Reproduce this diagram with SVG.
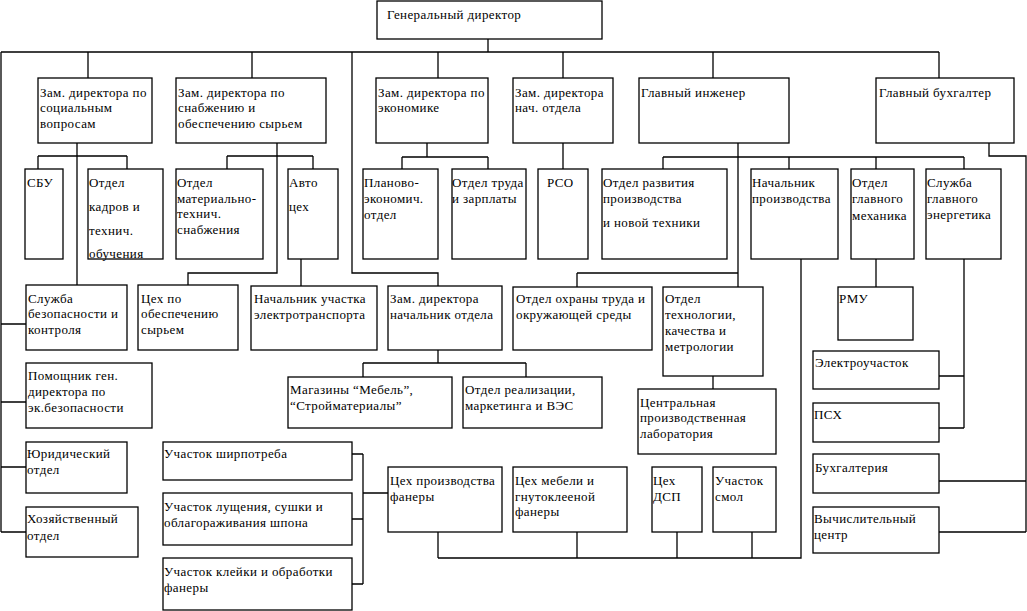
<svg xmlns="http://www.w3.org/2000/svg" width="1027" height="611" viewBox="0 0 1027 611">
<style>
rect{fill:#fff;stroke:#000;stroke-width:1.3}
text{font-family:"Liberation Serif","Times New Roman","DejaVu Serif",serif;font-size:13px;letter-spacing:0.4px;fill:#000}
.c path{fill:none;stroke:#000;stroke-width:1.3}
</style>
<rect x="0" y="0" width="1027" height="611" style="stroke:none"/>
<g class="c" id="connectors">
<path d="M488,39V52M1,52H939M1,52V532M1,324H26M1,402H26M1,467H26M1,532H26"/>
<path d="M88,52V78M252,52V78M438,52V78M563,52V78M713,52V78M939,52V78"/>
<path d="M352,52V273H438V286"/>
<path d="M77,143V285M38,156H127M38,156V169M127,156V169"/>
<path d="M277,143V273H188V285M227,156H313M227,156V169M313,156V169M301,259V286"/>
<path d="M427,143V157M402,157H488M402,157V169M488,157V169"/>
<path d="M563,143V169"/>
<path d="M738,143V287M663,157H964M663,157V169M789,157V169M876,157V169M964,157V169M577,273H738M577,273V287"/>
<path d="M438,350V363M363,363H526M363,363V377M526,363V377"/>
<path d="M713,376V389"/>
<path d="M989,143V156H1026V532M939,481H1026M939,532H1026"/>
<path d="M876,259V287"/>
<path d="M964,259V428M939,376H964M939,428H964"/>
<path d="M801,259V558H438M438,532V558M577,532V558M677,532V558M752,532V558"/>
<path d="M363,454V584M352,454H363M352,519H363M352,584H363M363,493H388"/>
</g>
<g id="n1"><rect x="377" y="1" width="225" height="38"/><text x="387" y="19">Генеральный директор</text></g>
<g id="n2"><rect x="38" y="78" width="114" height="65"/><text x="40" y="97">Зам. директора по</text><text x="40" y="112">социальным</text><text x="40" y="128">вопросам</text></g>
<g id="n3"><rect x="176" y="78" width="150" height="65"/><text x="178" y="97">Зам. директора по</text><text x="178" y="112">снабжению и</text><text x="178" y="128">обеспечению сырьем</text></g>
<g id="n4"><rect x="376" y="78" width="112" height="65"/><text x="378" y="97">Зам. директора по</text><text x="378" y="112">экономике</text></g>
<g id="n5"><rect x="513" y="78" width="100" height="65"/><text x="515" y="97">Зам. директора</text><text x="515" y="112">нач. отдела</text></g>
<g id="n6"><rect x="639" y="78" width="150" height="65"/><text x="641" y="97">Главный инженер</text></g>
<g id="n7"><rect x="876" y="78" width="138" height="65"/><text x="879" y="97">Главный бухгалтер</text></g>
<g id="n8"><rect x="25" y="169" width="38" height="90"/><text x="27" y="187">СБУ</text></g>
<g id="n9"><rect x="88" y="169" width="75" height="90"/><text x="89" y="187">Отдел</text><text x="89" y="211">кадров и</text><text x="89" y="235">технич.</text><text x="89" y="258">обучения</text></g>
<g id="n10"><rect x="176" y="169" width="87" height="90"/><text x="177" y="187">Отдел</text><text x="177" y="203">материально-</text><text x="177" y="218">технич.</text><text x="177" y="234">снабжения</text></g>
<g id="n11"><rect x="288" y="169" width="50" height="90"/><text x="289" y="187">Авто</text><text x="289" y="211">цех</text></g>
<g id="n12"><rect x="363" y="169" width="75" height="90"/><text x="364" y="187">Планово-</text><text x="364" y="203">экономич.</text><text x="364" y="219">отдел</text></g>
<g id="n13"><rect x="452" y="169" width="74" height="90"/><text x="452" y="187">Отдел труда</text><text x="452" y="203">и зарплаты</text></g>
<g id="n14"><rect x="538" y="169" width="50" height="90"/><text x="547" y="187">РСО</text></g>
<g id="n15"><rect x="602" y="169" width="125" height="90"/><text x="603" y="187">Отдел развития</text><text x="603" y="203">производства</text><text x="603" y="227">и новой техники</text></g>
<g id="n16"><rect x="751" y="169" width="87" height="90"/><text x="752" y="187">Начальник</text><text x="752" y="203">производства</text></g>
<g id="n17"><rect x="851" y="169" width="63" height="90"/><text x="852" y="187">Отдел</text><text x="852" y="203">главного</text><text x="852" y="220">механика</text></g>
<g id="n18"><rect x="926" y="169" width="75" height="90"/><text x="927" y="187">Служба</text><text x="927" y="203">главного</text><text x="927" y="219">энергетика</text></g>
<g id="n19"><rect x="26" y="285" width="101" height="65"/><text x="28" y="303">Служба</text><text x="28" y="318">безопасности и</text><text x="28" y="334">контроля</text></g>
<g id="n20"><rect x="138" y="285" width="100" height="65"/><text x="141" y="303">Цех по</text><text x="141" y="318">обеспечению</text><text x="141" y="334">сырьем</text></g>
<g id="n21"><rect x="251" y="286" width="126" height="64"/><text x="254" y="303">Начальник участка</text><text x="254" y="319">электротранспорта</text></g>
<g id="n22"><rect x="388" y="286" width="114" height="64"/><text x="390" y="303">Зам. директора</text><text x="390" y="319">начальник отдела</text></g>
<g id="n23"><rect x="513" y="287" width="139" height="63"/><text x="516" y="303">Отдел охраны труда и</text><text x="516" y="319">окружающей среды</text></g>
<g id="n24"><rect x="663" y="287" width="100" height="89"/><text x="665" y="303">Отдел</text><text x="665" y="319">технологии,</text><text x="665" y="335">качества и</text><text x="665" y="351">метрологии</text></g>
<g id="n25"><rect x="838" y="287" width="75" height="53"/><text x="839" y="303">РМУ</text></g>
<g id="n26"><rect x="26" y="363" width="126" height="65"/><text x="28" y="380">Помощник ген.</text><text x="28" y="396">директора по</text><text x="28" y="412">эк.безопасности</text></g>
<g id="n27"><rect x="288" y="377" width="164" height="51"/><text x="290" y="394">Магазины “Мебель”,</text><text x="290" y="410">“Стройматериалы”</text></g>
<g id="n28"><rect x="463" y="377" width="139" height="51"/><text x="465" y="394">Отдел реализации,</text><text x="465" y="410">маркетинга и ВЭС</text></g>
<g id="n29"><rect x="638" y="389" width="138" height="65"/><text x="640" y="407">Центральная</text><text x="640" y="422">производственная</text><text x="640" y="438">лаборатория</text></g>
<g id="n30"><rect x="813" y="351" width="126" height="38"/><text x="815" y="367">Электроучасток</text></g>
<g id="n31"><rect x="813" y="403" width="126" height="39"/><text x="814" y="419">ПСХ</text></g>
<g id="n32"><rect x="813" y="454" width="126" height="39"/><text x="815" y="472">Бухгалтерия</text></g>
<g id="n33"><rect x="813" y="507" width="126" height="46"/><text x="814" y="523">Вычислительный</text><text x="814" y="539">центр</text></g>
<g id="n34"><rect x="26" y="442" width="101" height="51"/><text x="27" y="458">Юридический</text><text x="27" y="474">отдел</text></g>
<g id="n35"><rect x="26" y="507" width="112" height="50"/><text x="27" y="523">Хозяйственный</text><text x="27" y="540">отдел</text></g>
<g id="n36"><rect x="163" y="442" width="189" height="38"/><text x="164" y="458">Участок ширпотреба</text></g>
<g id="n37"><rect x="163" y="493" width="189" height="52"/><text x="164" y="511">Участок лущения, сушки и</text><text x="164" y="527">облагораживания шпона</text></g>
<g id="n38"><rect x="163" y="558" width="189" height="52"/><text x="164" y="576">Участок клейки и обработки</text><text x="164" y="592">фанеры</text></g>
<g id="n39"><rect x="388" y="467" width="114" height="65"/><text x="390" y="485">Цех производства</text><text x="390" y="501">фанеры</text></g>
<g id="n40"><rect x="513" y="467" width="114" height="65"/><text x="515" y="485">Цех мебели и</text><text x="515" y="501">гнутоклееной</text><text x="515" y="516">фанеры</text></g>
<g id="n41"><rect x="652" y="467" width="50" height="65"/><text x="653" y="485">Цех</text><text x="653" y="501">ДСП</text></g>
<g id="n42"><rect x="713" y="467" width="63" height="65"/><text x="715" y="485">Участок</text><text x="715" y="501">смол</text></g>
</svg>
